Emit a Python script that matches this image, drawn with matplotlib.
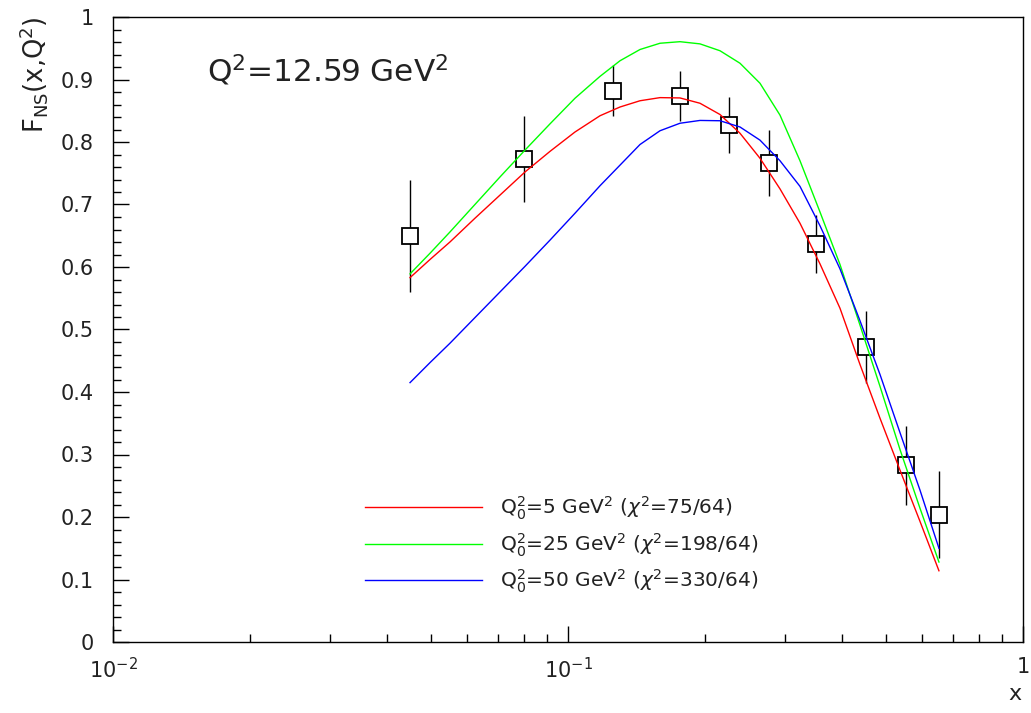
import matplotlib
matplotlib.use("Agg")
import matplotlib.pyplot as plt
from matplotlib.ticker import FixedLocator, MultipleLocator, FuncFormatter

plt.rcParams['font.family'] = ['DejaVu Sans']
plt.rcParams['mathtext.fontset'] = 'dejavusans'

# Measured non-singlet structure function
x_data = [0.0449, 0.0800, 0.1254, 0.1760, 0.2260, 0.2760, 0.3510, 0.4520, 0.5530, 0.6540]
y_data = [0.650, 0.773, 0.882, 0.874, 0.827, 0.766, 0.637, 0.472, 0.283, 0.204]
y_err = [0.090, 0.069, 0.041, 0.040, 0.045, 0.053, 0.046, 0.057, 0.063, 0.069]

# QCD fit curves for three starting scales
x_fit = [0.04496, 0.04974, 0.05502, 0.06244, 0.07087, 0.08043, 0.09129, 0.10360,
         0.11758, 0.13011, 0.14397, 0.15929, 0.17624, 0.19502, 0.21580, 0.23879,
         0.26420, 0.29235, 0.32349, 0.35795, 0.39608, 0.43827, 0.48497, 0.53660,
         0.59374, 0.65350]
f_q5 = [0.583, 0.612, 0.640, 0.678, 0.715, 0.752, 0.785, 0.816,
        0.842, 0.856, 0.866, 0.871, 0.8705, 0.862, 0.844, 0.814,
        0.774, 0.725, 0.670, 0.605, 0.534, 0.444, 0.358, 0.275,
        0.193, 0.114]
f_q25 = [0.589, 0.622, 0.656, 0.700, 0.744, 0.787, 0.829, 0.870,
         0.905, 0.930, 0.948, 0.958, 0.9605, 0.957, 0.946, 0.926,
         0.894, 0.843, 0.770, 0.688, 0.604, 0.507, 0.409, 0.308,
         0.214, 0.128]
f_q50 = [0.415, 0.447, 0.478, 0.519, 0.560, 0.601, 0.643, 0.686,
         0.730, 0.763, 0.796, 0.818, 0.830, 0.8345, 0.834, 0.824,
         0.803, 0.770, 0.729, 0.666, 0.597, 0.514, 0.428, 0.335,
         0.243, 0.150]
fit_labels = [r"Q$_0^2$=5 GeV$^2$ ($\chi^2$=75/64)",
              r"Q$_0^2$=25 GeV$^2$ ($\chi^2$=198/64)",
              r"Q$_0^2$=50 GeV$^2$ ($\chi^2$=330/64)"]
fit_colors = ['#ff0000', '#00ff00', '#0000ff']

xtick_vals = [0.01, 0.1, 1.0]
xtick_labels = [r"$10^{-2}$", r"$10^{-1}$", "1"]

fig = plt.figure(figsize=(10.31, 7.13), dpi=100)
ax = fig.add_axes([113 / 1031, 71 / 713, 910 / 1031, 625 / 713])

ax.errorbar(x_data, y_data, yerr=y_err, fmt='s', ms=11, mfc='white', mec='black',
            mew=1.3, ecolor='black', elinewidth=1.0, capsize=0, zorder=2)

for ys, col, lab in zip([f_q5, f_q25, f_q50], fit_colors, fit_labels):
    ax.plot(x_fit, ys, color=col, lw=1.0, label=lab, zorder=3)

ax.set_xscale('log')
ax.set_xlim(0.01, 1.0)
ax.set_ylim(0, 1)

ax.xaxis.set_major_locator(FixedLocator(xtick_vals))
ax.set_xticklabels(xtick_labels)
ax.xaxis.set_minor_locator(FixedLocator([m * d for d in (0.01, 0.1) for m in range(2, 10)]))
ax.xaxis.set_minor_formatter(FuncFormatter(lambda v, p: ""))

ax.yaxis.set_major_locator(MultipleLocator(0.1))
ax.yaxis.set_minor_locator(MultipleLocator(0.02))


def yfmt(v, pos):
    if abs(v) < 1e-9:
        return "0"
    if abs(v - 1) < 1e-9:
        return "1"
    return f"{v:.1f}"


ax.yaxis.set_major_formatter(FuncFormatter(yfmt))

ax.tick_params(which='both', direction='in', top=False, right=False,
               width=1.0, colors='black', labelcolor='#222222', labelsize=15)
ax.tick_params(which='major', length=11.5)
ax.tick_params(which='minor', length=5.8)
ax.tick_params(axis='x', which='major', pad=11)
ax.tick_params(axis='y', which='major', pad=14)
for sp in ax.spines.values():
    sp.set_linewidth(1.0)

ax.text(0.103, 0.915, r"Q$^2$=12.59 GeV$^2$", transform=ax.transAxes,
        fontsize=22.4, color='#222222', va='center', ha='left')

fig.text(33 / 1031, 1 - 16 / 713, r"F$_{\rm NS}$(x,Q$^2$)", rotation=90,
         ha='center', va='top', fontsize=18.5, color='#222222')
fig.text(1015 / 1031, 1 - 694 / 713, "x", ha='center', va='center',
         fontsize=16, color='#222222')

ax.legend(loc='lower left', bbox_to_anchor=(0.257, 0.046), frameon=False,
          fontsize=14.5, handlelength=5.8, handletextpad=0.9, labelspacing=0.45,
          labelcolor='#222222')

fig.savefig("out.png", dpi=100)
